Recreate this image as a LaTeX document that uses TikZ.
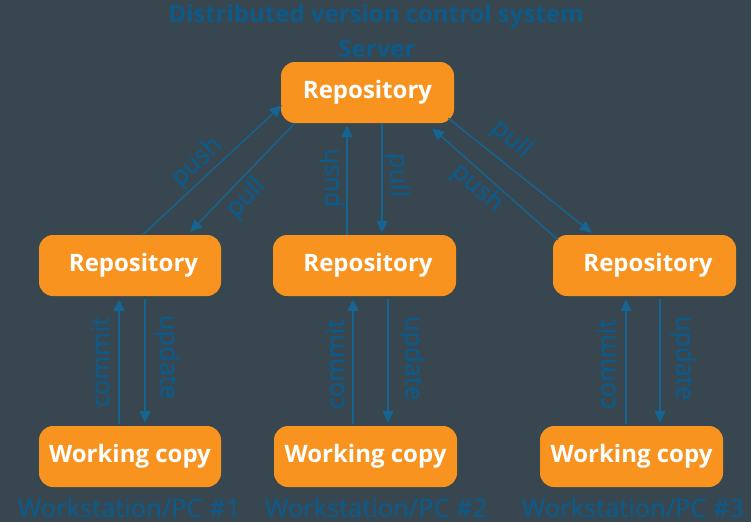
\documentclass[tikz,border=0pt]{standalone}
\usepackage{fontspec}
\setmainfont{Open Sans}
\usetikzlibrary{arrows.meta,calc}
\definecolor{bgslate}{RGB}{55,70,79}
\definecolor{boxorange}{RGB}{247,147,30}
\definecolor{inkblue}{RGB}{13,90,137}
\definecolor{lineblue}{RGB}{22,100,146}
\newfontfamily\labelfont[FakeBold=0.7]{Open Sans}
\newcommand{\nudged}[1]{\hspace*{7pt}#1}
\tikzset{
  x=1pt, y=-1pt,
  repo/.style={fill=boxorange, rounded corners=14pt, minimum height=61pt,
    inner sep=0pt, text=white, font=\fontsize{24}{24}\selectfont\bfseries},
  flow/.style={draw=lineblue, line width=1.4pt,
    -{Triangle[length=12pt,width=11pt]}},
  lbl/.style={text=inkblue, inner sep=0pt, font=\labelfont\fontsize{25.5}{25.5}\selectfont},
  caption/.style={text=inkblue, inner sep=0pt, font=\fontsize{24}{24}\selectfont\bfseries},
  host/.style={text=inkblue, inner sep=0pt, anchor=base, font=\labelfont\fontsize{25.5}{25.5}\selectfont}
}
\begin{document}
\begin{tikzpicture}
\fill[bgslate] (0,0) rectangle (751,522);
\useasboundingbox (0,0) rectangle (751,522);

% headings
\node[caption] (title) at (376,16) {Distributed version control system};
\node[caption] (server) at (377,49) {Server};

% repositories
\node[repo, minimum width=173pt] (srv) at (367.5,92.5) {Repository};
\node[repo, minimum width=182pt] (r1) at (130,265.5) {\nudged{Repository}};
\node[repo, minimum width=183pt] (r2) at (364.5,265.5) {\nudged{Repository}};
\node[repo, minimum width=183pt] (r3) at (644.5,265.5) {\nudged{Repository}};

% working copies
\node[repo, minimum width=182pt] (w1) at (130,456.5) {Working copy};
\node[repo, minimum width=183pt] (w2) at (365.5,456.5) {Working copy};
\node[repo, minimum width=183pt] (w3) at (631.5,456.5) {Working copy};

% workstation captions
\node[host] (h1) at (129,517) {Workstation/PC \#1};
\node[host] (h2) at (376,517) {Workstation/PC \#2};
\node[host] (h3) at (633,517) {Workstation/PC \#3};

% server <-> workstation 1
\draw[flow] ($(r1.north west)+(104,0)$) -- ($(srv.south west)+(1,-18)$);
\draw[flow] ($(srv.south west)+(14,0)$) -- ($(r1.north east)+(-31,-3)$);
\node[lbl, rotate=43.5] (push1) at (197,162) {push};
\node[lbl, rotate=46] (pull1) at (246,198) {pull};

% server <-> workstation 2
\draw[flow] (347,0 |- r2.north) -- ($(347,0 |- srv.south)+(0,2)$);
\draw[flow] (382,0 |- srv.south) -- ($(382,0 |- r2.north)+(0,-2)$);
\node[lbl, rotate=90] (push2) at (332,178) {push};
\node[lbl, rotate=-90] (pull2) at (397,175) {pull};

% server <-> workstation 3
\draw[flow] ($(srv.south east)+(-6,-5)$) -- ($(r3.north west)+(39,-2)$);
\draw[flow] ($(r3.north west)+(5,5)$) -- ($(srv.south east)+(-22,5)$);
\node[lbl, rotate=-41] (pull3) at (511,139) {pull};
\node[lbl, rotate=-41.6] (push3) at (477,188) {push};

% local commit / update
\draw[flow] ($(119,0 |- w1.north)+(0,-2)$) -- ($(119,0 |- r1.south)+(0,3)$);
\draw[flow] ($(145,0 |- r1.south)+(0,3)$) -- ($(145,0 |- w1.north)+(0,-3)$);
\node[lbl, rotate=90] (commit1) at (100,362) {commit};
\node[lbl, rotate=-90] (update1) at (167,357) {update};

\draw[flow] ($(353,0 |- w2.north)+(0,-2)$) -- ($(353,0 |- r2.south)+(0,3)$);
\draw[flow] ($(388,0 |- r2.south)+(0,3)$) -- ($(388,0 |- w2.north)+(0,-3)$);
\node[lbl, rotate=90] (commit2) at (335,364) {commit};
\node[lbl, rotate=-90] (update2) at (412,358) {update};

\draw[flow] ($(626,0 |- w3.north)+(0,-2)$) -- ($(626,0 |- r3.south)+(0,3)$);
\draw[flow] ($(660,0 |- r3.south)+(0,3)$) -- ($(660,0 |- w3.north)+(0,-3)$);
\node[lbl, rotate=90] (commit3) at (606,364) {commit};
\node[lbl, rotate=-90] (update3) at (683,358) {update};
\end{tikzpicture}
\end{document}
